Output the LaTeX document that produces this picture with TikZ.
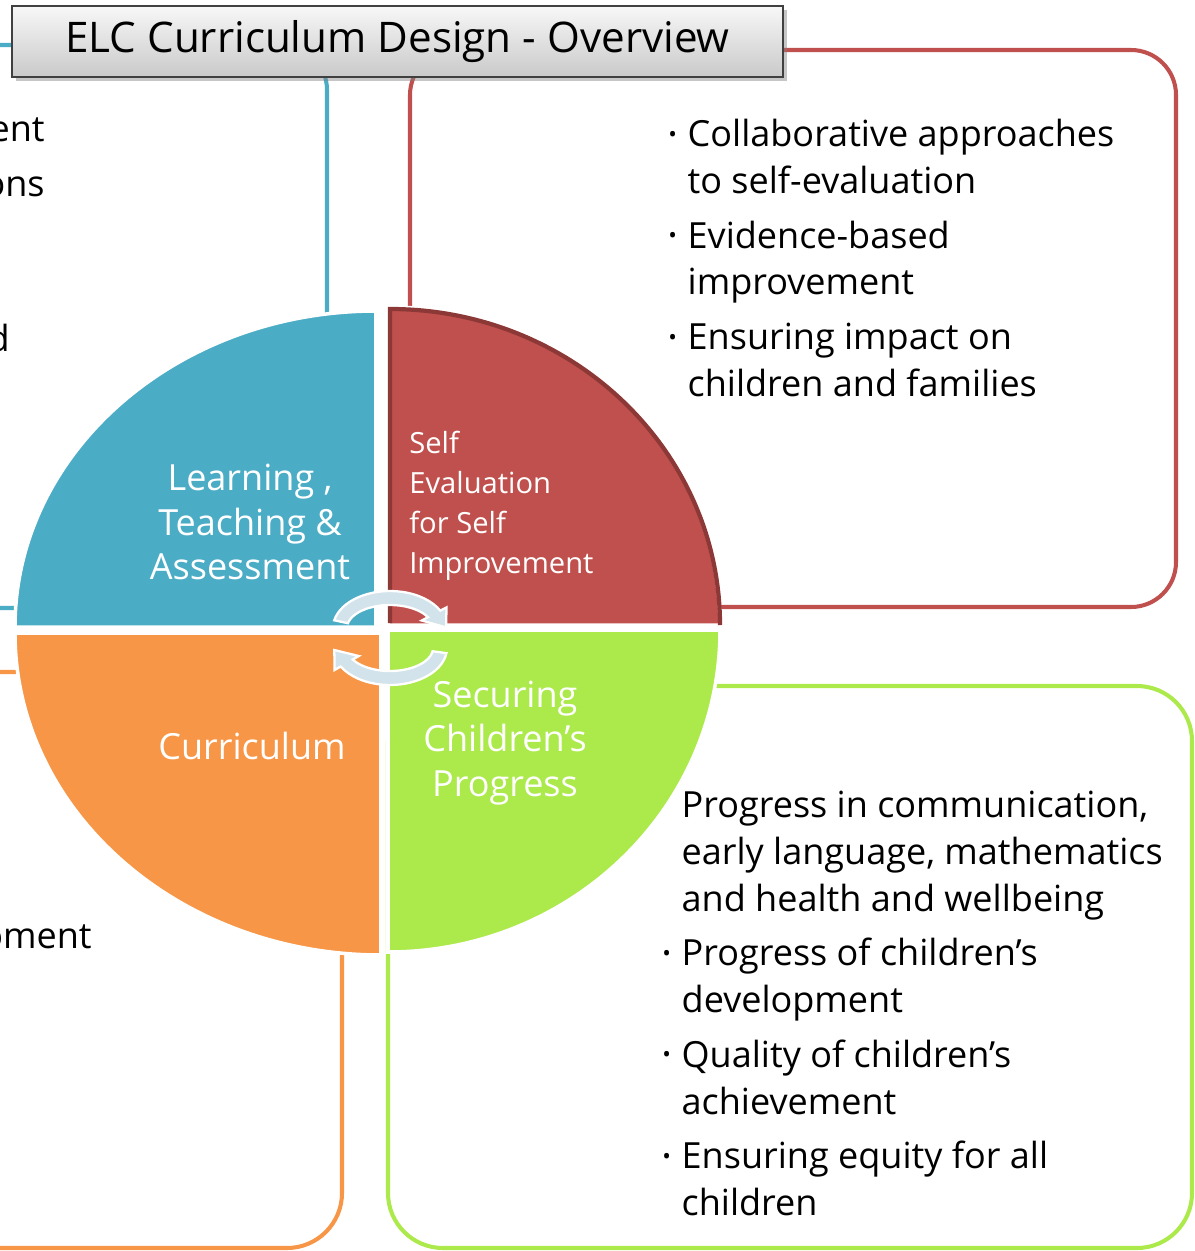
\documentclass[tikz,border=0pt]{standalone}
\usepackage{fontspec}
\setmainfont{Open Sans}
\usetikzlibrary{positioning, calc, shadows}

\definecolor{ltblue}{RGB}{75,172,198}
\definecolor{dkred}{RGB}{192,80,77}
\definecolor{redborder}{RGB}{140,56,54}
\definecolor{ltorange}{RGB}{247,150,70}
\definecolor{ltgreen}{RGB}{172,233,74}
\definecolor{arrowfill}{RGB}{210,227,235}

\newcommand{\bul}{\makebox[11pt][l]{\raisebox{2.5pt}{\fontsize{13}{13}\selectfont\textbullet}}}
\newcommand{\ind}{\hspace*{11pt}}

\begin{document}
\begin{tikzpicture}[x=0.02cm, y=-0.02cm]
        \tikzstyle{frame}=[line width=2.3pt, rounded corners=0.9cm];
        \tikzstyle{quad}=[draw=white, line width=2pt];
        \tikzstyle{lbl}=[text=white, inner sep=0pt, font=\fontsize{20.5}{25.5}\selectfont];
        \tikzstyle{txt}=[inner sep=0pt, align=left, font=\fontsize{20.5}{26.6}\selectfont];
        \tikzstyle{cyc}=[fill=arrowfill, draw=white, line width=1.3pt];

        \useasboundingbox (0,0) rectangle (1194,1251);

        \draw[frame, draw=ltblue] (-60,45) rectangle (327,608);
        \draw[frame, draw=dkred] (410,50) rectangle (1176,607);
        \draw[frame, draw=ltorange, rounded corners=1.1cm] (-60,672) rectangle (342,1248);
        \draw[frame, draw=ltgreen, rounded corners=1.1cm] (388,686) rectangle (1192,1248);

        \node[draw=black!75, line width=0.8pt, top color=gray!6, bottom color=gray!42,
              minimum width=15.42cm, minimum height=1.42cm, inner sep=0pt,
              drop shadow={shadow xshift=2.5pt, shadow yshift=-2.5pt, opacity=.45},
              font=\fontsize{24}{28}\selectfont] (title) at (397.5,41.5) {ELC Curriculum Design - Overview};

        \filldraw[quad, fill=ltblue] (376,627) -- (15,627) arc[start angle=180, end angle=270, x radius=361, y radius=316] -- cycle;
        \filldraw[quad, fill=dkred] (388,625) -- (388,307) arc[start angle=270, end angle=360, x radius=332, y radius=318] -- cycle;
        \draw[line width=2.4pt, redborder] (390,623) -- (390,309) arc[start angle=270, end angle=360, x radius=330, y radius=316];
        \filldraw[quad, fill=ltorange] (381,633) -- (15,633) arc[start angle=180, end angle=90, x radius=366, y radius=322] -- cycle;
        \filldraw[quad, fill=ltgreen] (388,630) -- (720,630) arc[start angle=0, end angle=90, x radius=332, y radius=322] -- cycle;

        \begin{scope}[shift={(390,628)}, yscale=-1]
          \filldraw[cyc] (168:57 and 37) arc[start angle=168, end angle=28, x radius=57, y radius=37]
            -- (56.5,20.6) -- (56.1,0.6) -- (31.8,7.5)
            -- (28:43 and 23) arc[start angle=28, end angle=168, x radius=43, y radius=23] -- cycle;
        \end{scope}
        \begin{scope}[shift={(390,648)}, yscale=-1]
          \filldraw[cyc] (-8:57 and 37) arc[start angle=-8, end angle=-150, x radius=57, y radius=37]
            -- (-55.4,-22) -- (-55.7,-2) -- (-31.2,-8)
            -- (-150:43 and 23) arc[start angle=-150, end angle=-8, x radius=43, y radius=23] -- cycle;
        \end{scope}

        \node[lbl, align=center] (lta) at (250,522) {Learning ,\\Teaching \&\\Assessment};
        \node[lbl, align=left, anchor=west, font=\fontsize{16.6}{22.7}\selectfont] (sesi) at (409,506) {Self\\Evaluation\\for Self\\Improvement};
        \node[lbl] (curr) at (252,746) {Curriculum};
        \node[lbl, align=center] (scp) at (505,743) {Securing\\Children’s\\Progress};

        \node[txt, anchor=north west] (selist) at (668,119) {\bul Collaborative approaches\\\ind to self-evaluation\\[4.5pt]\bul Evidence-based\\\ind improvement\\[4.5pt]\bul Ensuring impact on\\\ind children and families};
        \node[txt, anchor=north west] (scplist) at (662,791) {\ind Progress in communication,\\\ind early language, mathematics\\\ind and health and wellbeing\\[4.5pt]\bul Progress of children’s\\\ind development\\[4.5pt]\bul Quality of children’s\\\ind achievement\\[4.5pt]\bul Ensuring equity for all\\\ind children};

        \node[txt, anchor=base east] (fra) at (45,141) {ent};
        \node[txt, anchor=base east] (frb) at (45,196) {ons};
        \node[txt, anchor=base east] (frc) at (10,351) {d};
        \node[txt, anchor=base east] (frd) at (92,948) {oment};
      \end{tikzpicture}
\end{document}
